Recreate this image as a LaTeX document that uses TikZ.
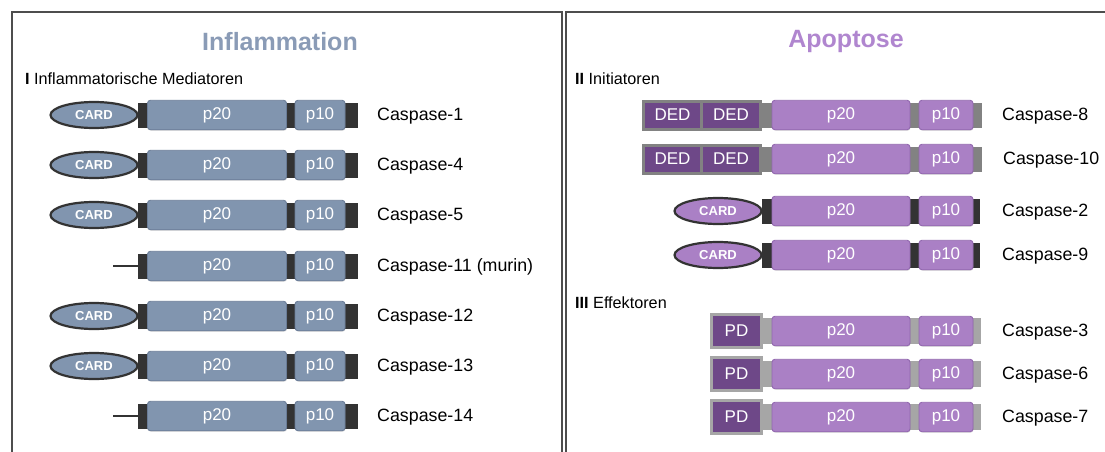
\documentclass[tikz,border=0pt]{standalone}
\usepackage{fontspec}
\setmainfont{Liberation Sans}
\usetikzlibrary{shapes.geometric,shadows}
\definecolor{bluebox}{HTML}{8195AF}
\definecolor{blueedge}{HTML}{6A7C97}
\definecolor{darkbar}{HTML}{333333}
\definecolor{purplebox}{HTML}{AA80C5}
\definecolor{purpleedge}{HTML}{9268AF}
\definecolor{darkpurple}{HTML}{6E4888}
\definecolor{graybar}{HTML}{828282}
\definecolor{lightgraybar}{HTML}{A6A6A6}
\definecolor{titleblue}{HTML}{8A9BB6}
\definecolor{titlepurple}{HTML}{B086CF}
\definecolor{panelline}{HTML}{4D4D4D}
\tikzset{
  panel/.style={draw=panelline, line width=2pt},
  bar/.style={fill=darkbar, inner sep=0pt, minimum height=25pt, minimum width=220pt},
  gbar/.style={bar, fill=graybar, minimum width=220pt},
  lgbar/.style={bar, fill=lightgraybar, minimum height=26pt, minimum width=218pt},
  dom/.style={rounded corners=3pt, inner sep=0pt, minimum height=29.5pt, text=white,
              font=\fontsize{17}{17}\selectfont, line width=0.9pt,
              drop shadow={opacity=0.25, shadow xshift=0.6pt, shadow yshift=-1pt}},
  bdom/.style={dom, fill=bluebox, draw=blueedge},
  pdom/.style={dom, fill=purplebox, draw=purpleedge},
  card/.style={ellipse, draw=darkbar, line width=2.2pt, inner sep=0pt,
               minimum width=87pt, minimum height=26pt, text=white,
               font=\bfseries\fontsize{13}{13}\selectfont},
  bcard/.style={card, fill=bluebox},
  pcard/.style={card, fill=purplebox},
  ded/.style={fill=darkpurple, draw=graybar, line width=3pt, inner sep=0pt,
              minimum height=28pt, text=white, font=\fontsize{17}{17}\selectfont},
  pdbox/.style={ded, draw=lightgraybar, minimum width=50pt, minimum height=33pt},
  casp/.style={anchor=west, inner sep=0pt, yshift=-1pt, font=\fontsize{17.8}{17.8}\selectfont},
  section/.style={anchor=west, inner sep=0pt, font=\fontsize{16.2}{16.2}\selectfont},
  stub/.style={draw=darkbar, line width=2pt},
  title/.style={inner sep=0pt, font=\bfseries\fontsize{25}{25}\selectfont}
}
\begin{document}
\begin{tikzpicture}[x=1pt,y=-1pt]
\useasboundingbox (0,0) rectangle (1105,452);
% panels
\draw[panel] (11.5,470) -- (11.5,12.5) -- (561.5,12.5) -- (561.5,470);
\draw[panel] (565.5,470) -- (565.5,12.5) -- (1120,12.5);
% titles
\node[title, text=titleblue] (tinf) at (280,41.5) {Inflammation};
\node[title, text=titlepurple] (tapo) at (846,41.5) {Apoptose};
\node[section] (s1) at (25,79) {\textbf{I} Inflammatorische Mediatoren};
\node[section] (s2) at (575,79) {\textbf{II} Initiatoren};
\node[section] (s3) at (575,303) {\textbf{III} Effektoren};

% left rows
\foreach \n/\y/\lab/\hascard in {1/115/Caspase-1/1, 2/165/Caspase-4/1, 3/215/Caspase-5/1,
  4/266/Caspase-11 (murin)/0, 5/316/Caspase-12/1, 6/366/Caspase-13/1, 7/416/Caspase-14/0}{
  \node[bar] (Lbar\n) at (248,\y) {};
  \node[bdom, minimum width=139pt] (Lp20\n) at (217,\y) {p20};
  \node[bdom, minimum width=50pt] (Lp10\n) at (320,\y) {p10};
  \node[casp] (Llab\n) at (377,\y) {\lab};
  \ifnum\hascard=1
    \node[bcard] (Lcard\n) at (94,\y) {CARD};
  \else
    \coordinate (Lstub\n) at (113,\y);
    \draw[stub] (Lstub\n) -- (Lbar\n.west);
  \fi
}

% right: initiators with DED
\foreach \n/\y/\lab/\lx in {1/115/Caspase-8/1002, 2/159/Caspase-10/1003}{
  \node[gbar] (Dbar\n) at (872,\y) {};
  \node[ded, minimum width=58pt] (Dded\n a) at (672.5,\y) {DED};
  \node[ded, minimum width=59pt] (Dded\n b) at (731,\y) {DED};
  \node[pdom, minimum width=138pt] (Dp20\n) at (841,\y) {p20};
  \node[pdom, minimum width=54pt] (Dp10\n) at (946,\y) {p10};
  \node[casp] (Dlab\n) at (\lx,\y) {\lab};
}
% right: initiators with CARD
\foreach \n/\y/\lab in {1/211/Caspase-2, 2/255/Caspase-9}{
  \node[bar, minimum width=218pt] (Cbar\n) at (871,\y) {};
  \node[pdom, minimum width=138pt] (Cp20\n) at (841,\y) {p20};
  \node[pdom, minimum width=54pt] (Cp10\n) at (946,\y) {p10};
  \node[pcard] (Ccard\n) at (718,\y) {CARD};
  \node[casp] (Clab\n) at (1002,\y) {\lab};
}
% right: effectors
\foreach \n/\y/\lab in {1/331/Caspase-3, 2/374/Caspase-6, 3/417/Caspase-7}{
  \node[lgbar] (Ebar\n) at (872,\y) {};
  \node[pdbox] (Epd\n) at (736.5,\y) {PD};
  \node[pdom, minimum width=138pt] (Ep20\n) at (841,\y) {p20};
  \node[pdom, minimum width=54pt] (Ep10\n) at (946,\y) {p10};
  \node[casp] (Elab\n) at (1002,\y) {\lab};
}
\end{tikzpicture}
\end{document}
